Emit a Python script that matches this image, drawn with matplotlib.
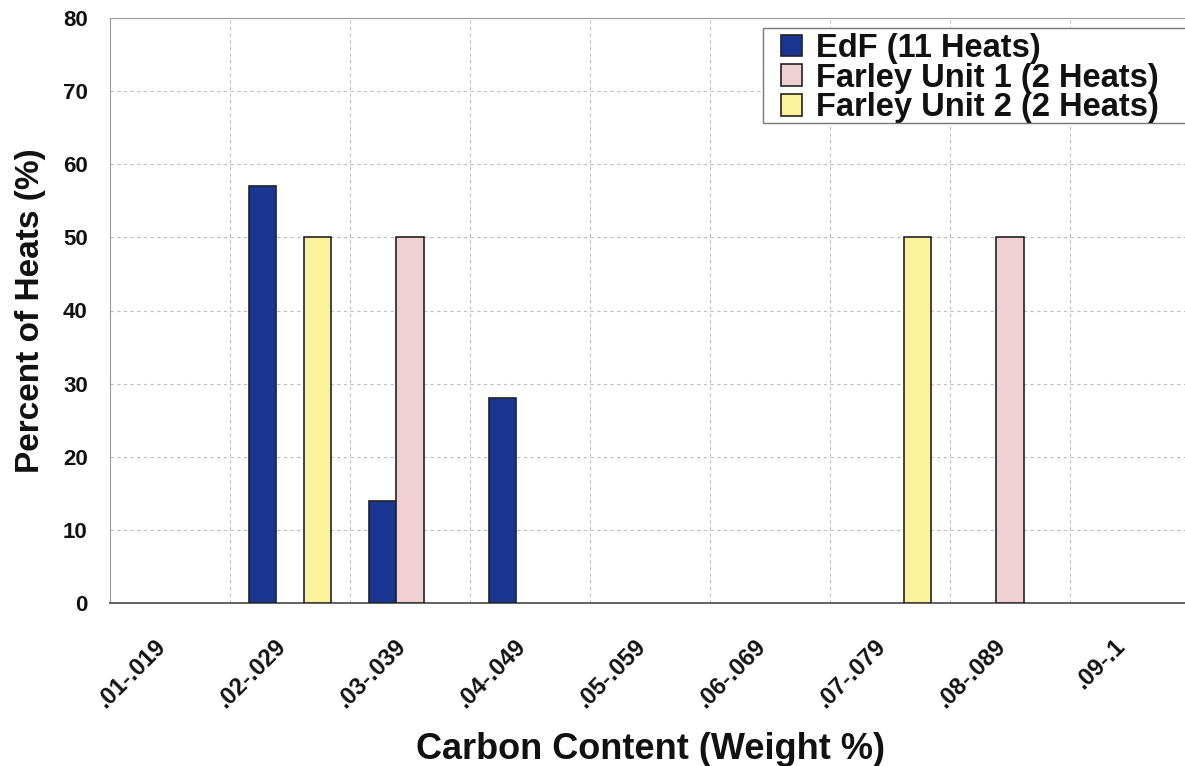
import matplotlib
matplotlib.use("Agg")
import matplotlib.pyplot as plt
import matplotlib.transforms as mtransforms
from matplotlib.patches import Rectangle
import numpy as np

categories = [".01-.019", ".02-.029", ".03-.039", ".04-.049", ".05-.059",
              ".06-.069", ".07-.079", ".08-.089", ".09-.1"]
series_names = ["EdF (11 Heats)", "Farley Unit 1 (2 Heats)", "Farley Unit 2 (2 Heats)"]
edf = [0, 57, 14, 28, 0, 0, 0, 0, 0]
farley1 = [0, 0, 50, 0, 0, 0, 0, 50, 0]
farley2 = [0, 50, 0, 0, 0, 0, 50, 0, 0]
colors = ["#1a3592", "#f1d0d4", "#fbf39c"]

plt.rcParams['font.family'] = ['Liberation Sans', 'DejaVu Sans']

fig = plt.figure(figsize=(11.85, 7.66), dpi=100)
W, H = 1185, 766
ax = fig.add_axes([110 / W, 1 - 603 / H, 1080 / W, (603 - 18) / H])

x = np.arange(len(categories))
bw = 0.228
for i, (vals, name, c) in enumerate(zip([edf, farley1, farley2], series_names, colors)):
    xs = x + (i - 1) * bw
    mask = np.array(vals) > 0
    ax.bar(xs[mask], np.array(vals)[mask], width=bw, color=c, edgecolor="#222222",
           linewidth=1.2, label=name, zorder=3)

ax.set_xlim(-0.5, len(categories) - 0.5)
ax.set_ylim(0, 80)
ax.set_yticks(np.arange(0, 81, 10))
ax.set_xticks(x)
ax.set_xticklabels(categories, rotation=45, ha="right", fontsize=17, fontweight="bold",
                   color="#111111")
shift = mtransforms.ScaledTranslation(-8 / 100, 0, fig.dpi_scale_trans)
for lab in ax.get_xticklabels():
    lab.set_transform(lab.get_transform() + shift)
ax.set_xticks(np.arange(0.5, len(categories) - 0.5, 1), minor=True)
ax.tick_params(axis="x", which="both", length=0, pad=23)
ax.tick_params(axis="y", length=0, pad=16, labelsize=16)
for lab in ax.get_yticklabels():
    lab.set_fontweight("bold")
    lab.set_color("#111111")

ax.grid(True, axis="y", which="major", color="#bdbdbd", linestyle=(0, (3, 3)), linewidth=0.8, zorder=0)
ax.grid(True, axis="x", which="minor", color="#bdbdbd", linestyle=(0, (3, 3)), linewidth=0.8, zorder=0)
ax.grid(False, axis="x", which="major")

ax.spines["right"].set_visible(False)
ax.spines["top"].set_color("#9a9a9a")
ax.spines["left"].set_color("#9a9a9a")
ax.spines["bottom"].set_color("#555555")
ax.spines["bottom"].set_linewidth(1.3)

ax.set_xlabel("Carbon Content (Weight %)", fontsize=26, fontweight="bold", labelpad=14, color="#111111")
ax.set_ylabel("Percent of Heats (%)", fontsize=24, fontweight="bold", labelpad=12, color="#111111")

# legend frame drawn separately (extends past the right edge like the reference)
frame = Rectangle((763 / W, 1 - 123 / H), (1200 - 763) / W, 95 / H, transform=fig.transFigure,
                  facecolor="white", edgecolor="#777777", linewidth=1.0, zorder=4, clip_on=False)
ax.add_patch(frame)

leg = ax.legend(loc="upper left", bbox_to_anchor=(781 / W, 1 - 33 / H), bbox_transform=fig.transFigure,
                prop={"weight": "bold", "size": 23.5}, frameon=False,
                handlelength=0.64, handleheight=0.64, handletextpad=0.42,
                labelspacing=-0.04, borderpad=0.0, borderaxespad=0)
leg.set_zorder(5)
for t in leg.get_texts():
    t.set_color("#111111")

fig.savefig("out.png", dpi=100)
